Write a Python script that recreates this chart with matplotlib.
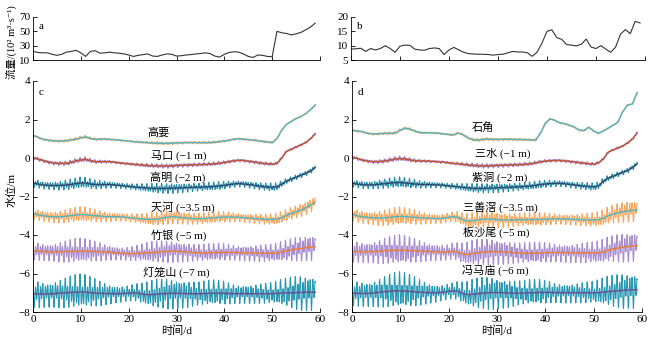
import numpy as np
import matplotlib
matplotlib.use("Agg")
import matplotlib.pyplot as plt

plt.rcParams['font.family'] = ['Liberation Serif', 'Noto Sans CJK SC', 'DejaVu Sans']
plt.rcParams['font.size'] = 8

days = np.arange(60)

# discharge, 10^2 m3/s
flow_a = [22, 20.5, 20, 20, 18, 16.5, 18, 21, 22, 23.5, 20, 15, 22, 23, 19.5, 20, 21, 20, 19.5, 18.5,
          17, 15, 16.5, 17.5, 18.5, 15.5, 15, 17, 18.5, 18, 15.5, 16, 17, 17.5, 18.5, 19, 20, 19, 15.5, 14,
          18, 20.5, 21.5, 21, 18.5, 15, 13.5, 17, 16.5, 15, 14.5, 50, 48, 47, 45, 46.5, 48.5, 52, 56, 61.5]
flow_b = [8.8, 8.9, 9.1, 8.0, 9.0, 8.5, 9.0, 10.0, 9.0, 7.7, 9.8, 10.2, 10.1, 8.8, 8.5, 8.4, 9.0, 9.2, 9.0, 6.9,
          8.5, 9.4, 8.5, 7.7, 7.2, 7.1, 7.0, 7.0, 6.9, 6.7, 6.9, 7.0, 7.5, 8.0, 7.8, 7.8, 7.5, 6.3, 7.8, 11,
          15, 15.5, 12.8, 12.2, 10.4, 10.2, 9.9, 10.5, 12.3, 9.5, 9.0, 10.0, 8.8, 7.7, 9.5, 14.0, 15.6, 14.2, 18.5, 17.9]

# daily mean water level as drawn (offset already applied), m
gaoyao = [1.18, 1.08, 0.98, 0.93, 0.9, 0.88, 0.88, 0.9, 0.94, 0.98, 1.05, 1.1, 1.02, 0.97, 0.98, 0.98, 0.97, 0.95, 0.93, 0.9,
          0.88, 0.85, 0.83, 0.81, 0.8, 0.78, 0.77, 0.76, 0.76, 0.77, 0.78, 0.79, 0.8, 0.8, 0.8, 0.8, 0.8, 0.8, 0.82, 0.85,
          0.88, 0.92, 0.97, 1.0, 0.98, 0.95, 0.93, 0.9, 0.86, 0.83, 0.8, 1.0, 1.45, 1.75, 1.9, 2.05, 2.15, 2.3, 2.5, 2.75]
makou = [0.02, -0.05, -0.13, -0.2, -0.25, -0.28, -0.28, -0.28, -0.22, -0.15, -0.1, -0.07, -0.14, -0.19, -0.19, -0.19, -0.19, -0.22, -0.25, -0.28,
         -0.3, -0.33, -0.35, -0.37, -0.39, -0.4, -0.41, -0.42, -0.42, -0.41, -0.39, -0.38, -0.37, -0.36, -0.35, -0.34, -0.33, -0.32, -0.3, -0.27,
         -0.23, -0.19, -0.15, -0.12, -0.13, -0.17, -0.2, -0.24, -0.28, -0.3, -0.32, -0.28, 0.0, 0.35, 0.45, 0.57, 0.68, 0.8, 1.0, 1.25]
gaoming = [-1.3, -1.35, -1.4, -1.42, -1.43, -1.43, -1.42, -1.4, -1.37, -1.33, -1.3, -1.3, -1.35, -1.38, -1.38, -1.38, -1.38, -1.4, -1.42, -1.45,
           -1.47, -1.5, -1.52, -1.54, -1.56, -1.57, -1.58, -1.58, -1.58, -1.57, -1.56, -1.55, -1.54, -1.53, -1.52, -1.51, -1.5, -1.49, -1.47, -1.45,
           -1.42, -1.38, -1.35, -1.33, -1.35, -1.38, -1.41, -1.45, -1.48, -1.5, -1.52, -1.5, -1.35, -1.2, -1.1, -1.0, -0.9, -0.8, -0.68, -0.5]
tianhe = [-2.88, -2.95, -3.0, -3.03, -3.05, -3.06, -3.05, -3.02, -2.99, -2.96, -2.94, -2.95, -2.98, -3.0, -3.02, -3.04, -3.05, -3.05, -3.05, -3.07,
          -3.1, -3.12, -3.15, -3.17, -3.19, -3.19, -3.17, -3.12, -3.08, -3.05, -3.06, -3.09, -3.12, -3.14, -3.15, -3.15, -3.14, -3.12, -3.1, -3.08,
          -3.07, -3.06, -3.07, -3.08, -3.1, -3.12, -3.14, -3.16, -3.18, -3.19, -3.19, -3.17, -3.1, -2.98, -2.88, -2.8, -2.7, -2.6, -2.45, -2.3]
zhuyin = [-4.82, -4.84, -4.86, -4.88, -4.88, -4.88, -4.87, -4.86, -4.85, -4.84, -4.83, -4.84, -4.85, -4.86, -4.87, -4.88, -4.9, -4.92, -4.94, -4.96,
          -4.97, -4.97, -4.95, -4.93, -4.92, -4.91, -4.89, -4.87, -4.85, -4.84, -4.84, -4.86, -4.88, -4.9, -4.92, -4.93, -4.93, -4.92, -4.91, -4.9,
          -4.9, -4.9, -4.91, -4.92, -4.93, -4.93, -4.94, -4.94, -4.95, -4.95, -4.95, -4.93, -4.88, -4.82, -4.77, -4.73, -4.7, -4.66, -4.63, -4.6]
denglongshan = [-7.05, -7.06, -7.07, -7.07, -7.06, -7.04, -7.02, -7.0, -6.98, -6.97, -6.96, -6.97, -6.99, -7.01, -7.03, -7.04, -7.05, -7.05, -7.05, -7.04,
                -7.02, -7.0, -7.02, -7.08, -7.1, -7.09, -7.07, -7.05, -7.04, -7.03, -7.03, -7.04, -7.05, -7.05, -7.05, -7.05, -7.04, -7.03, -7.02, -7.02,
                -7.03, -7.04, -7.05, -7.05, -7.05, -7.05, -7.05, -7.05, -7.05, -7.05, -7.04, -7.03, -7.02, -7.01, -7.0, -6.99, -6.98, -6.98, -6.97, -6.97]

shijiao = [1.45, 1.4, 1.37, 1.3, 1.25, 1.25, 1.27, 1.28, 1.28, 1.3, 1.45, 1.55, 1.5, 1.4, 1.32, 1.31, 1.31, 1.3, 1.28, 1.25,
           1.22, 1.2, 1.3, 1.2, 1.05, 0.95, 0.93, 0.96, 0.98, 0.97, 0.96, 0.97, 0.97, 0.97, 0.96, 0.96, 0.95, 0.94, 0.93, 1.3,
           1.8, 2.04, 1.95, 1.82, 1.78, 1.7, 1.6, 1.45, 1.42, 1.6, 1.4, 1.28, 1.4, 1.55, 1.7, 1.85, 2.4, 2.75, 2.8, 3.4]
sanshui = [0.05, -0.02, -0.1, -0.15, -0.19, -0.2, -0.18, -0.15, -0.1, -0.05, -0.03, -0.05, -0.1, -0.14, -0.15, -0.16, -0.17, -0.18, -0.2, -0.22,
           -0.25, -0.28, -0.3, -0.33, -0.36, -0.38, -0.4, -0.41, -0.41, -0.4, -0.39, -0.38, -0.37, -0.36, -0.35, -0.34, -0.32, -0.3, -0.25, -0.2,
           -0.16, -0.14, -0.13, -0.13, -0.15, -0.18, -0.21, -0.24, -0.27, -0.3, -0.32, -0.25, -0.05, 0.3, 0.42, 0.52, 0.62, 0.78, 0.98, 1.3]
zidong = [-1.3, -1.35, -1.38, -1.4, -1.4, -1.38, -1.35, -1.33, -1.3, -1.28, -1.27, -1.3, -1.33, -1.35, -1.37, -1.38, -1.38, -1.39, -1.4, -1.42,
          -1.45, -1.47, -1.5, -1.52, -1.55, -1.57, -1.58, -1.58, -1.57, -1.56, -1.55, -1.54, -1.53, -1.52, -1.5, -1.49, -1.47, -1.45, -1.42, -1.38,
          -1.35, -1.33, -1.32, -1.32, -1.34, -1.37, -1.4, -1.43, -1.46, -1.48, -1.5, -1.45, -1.2, -1.05, -0.95, -0.85, -0.75, -0.65, -0.5, -0.3]
sanshanjiao = [-2.9, -3.0, -3.05, -3.08, -3.1, -3.12, -3.12, -3.1, -3.08, -3.05, -3.03, -3.04, -3.06, -3.08, -3.1, -3.12, -3.13, -3.14, -3.15, -3.12,
               -3.08, -3.05, -3.08, -3.2, -3.28, -3.26, -3.22, -3.18, -3.17, -3.18, -3.2, -3.22, -3.22, -3.22, -3.21, -3.2, -3.2, -3.2, -3.2, -3.19,
               -3.18, -3.17, -3.16, -3.16, -3.17, -3.18, -3.19, -3.2, -3.21, -3.22, -3.22, -3.2, -3.12, -3.0, -2.92, -2.85, -2.8, -2.75, -2.72, -2.7]
banshawei = [-4.85, -4.86, -4.88, -4.88, -4.87, -4.86, -4.84, -4.82, -4.8, -4.79, -4.79, -4.8, -4.81, -4.82, -4.83, -4.85, -4.86, -4.87, -4.88, -4.9,
             -4.88, -4.84, -4.9, -5.0, -5.0, -4.96, -4.92, -4.89, -4.87, -4.86, -4.86, -4.87, -4.89, -4.91, -4.93, -4.94, -4.95, -4.95, -4.94, -4.93,
             -4.92, -4.91, -4.91, -4.91, -4.92, -4.93, -4.93, -4.93, -4.93, -4.93, -4.93, -4.92, -4.88, -4.78, -4.72, -4.68, -4.64, -4.6, -4.57, -4.55]
fengmamiao = [-7.02, -7.03, -7.04, -7.04, -7.03, -7.0, -6.97, -6.94, -6.92, -6.9, -6.9, -6.91, -6.93, -6.95, -6.97, -6.99, -7.0, -7.01, -7.0, -6.97,
              -6.93, -6.9, -6.92, -7.05, -7.1, -7.08, -7.05, -7.02, -7.0, -6.99, -6.99, -7.0, -7.01, -7.02, -7.02, -7.02, -7.01, -7.0, -6.99, -6.98,
              -6.98, -6.98, -6.99, -7.0, -7.0, -7.0, -7.0, -7.0, -7.0, -7.0, -7.0, -6.99, -6.97, -6.94, -6.92, -6.9, -6.88, -6.86, -6.85, -6.85]

# daily tidal range, m
rng_gaoyao = [0.12, 0.11, 0.1, 0.1, 0.11, 0.12, 0.13, 0.14, 0.15, 0.15, 0.15, 0.14, 0.13, 0.12, 0.11, 0.1, 0.09, 0.08, 0.08, 0.08,
              0.08, 0.09, 0.1, 0.11, 0.12, 0.13, 0.14, 0.14, 0.14, 0.14, 0.13, 0.13, 0.12, 0.12, 0.12, 0.12, 0.12, 0.12, 0.12, 0.12,
              0.11, 0.1, 0.1, 0.09, 0.09, 0.09, 0.1, 0.1, 0.1, 0.1, 0.1, 0.08, 0.06, 0.05, 0.05, 0.05, 0.05, 0.05, 0.05, 0.05]
rng_makou = [0.18, 0.17, 0.16, 0.16, 0.17, 0.19, 0.21, 0.22, 0.23, 0.24, 0.24, 0.23, 0.21, 0.19, 0.17, 0.15, 0.13, 0.12, 0.12, 0.12,
             0.12, 0.13, 0.15, 0.17, 0.19, 0.2, 0.21, 0.22, 0.22, 0.21, 0.2, 0.19, 0.18, 0.18, 0.18, 0.18, 0.18, 0.18, 0.18, 0.18,
             0.17, 0.16, 0.15, 0.14, 0.14, 0.14, 0.15, 0.15, 0.16, 0.16, 0.16, 0.14, 0.12, 0.1, 0.1, 0.1, 0.1, 0.1, 0.1, 0.1]
rng_gaoming = [0.45, 0.43, 0.4, 0.4, 0.42, 0.46, 0.5, 0.54, 0.58, 0.6, 0.6, 0.58, 0.55, 0.5, 0.45, 0.4, 0.36, 0.33, 0.31, 0.3,
               0.3, 0.32, 0.36, 0.4, 0.45, 0.5, 0.53, 0.55, 0.55, 0.54, 0.52, 0.5, 0.47, 0.45, 0.44, 0.43, 0.43, 0.44, 0.45, 0.44,
               0.42, 0.38, 0.35, 0.33, 0.33, 0.34, 0.36, 0.38, 0.4, 0.42, 0.44, 0.42, 0.35, 0.3, 0.28, 0.27, 0.27, 0.28, 0.28, 0.28]
rng_tianhe = [0.6, 0.57, 0.55, 0.55, 0.58, 0.63, 0.68, 0.73, 0.77, 0.8, 0.8, 0.78, 0.74, 0.68, 0.62, 0.55, 0.5, 0.46, 0.43, 0.42,
              0.42, 0.45, 0.5, 0.56, 0.62, 0.68, 0.72, 0.74, 0.74, 0.72, 0.7, 0.67, 0.64, 0.62, 0.6, 0.6, 0.6, 0.61, 0.62, 0.61,
              0.58, 0.54, 0.5, 0.47, 0.46, 0.47, 0.5, 0.53, 0.56, 0.58, 0.6, 0.62, 0.63, 0.64, 0.66, 0.68, 0.7, 0.72, 0.72, 0.7]
rng_zhuyin = [1.0, 0.95, 0.9, 0.88, 0.92, 1.0, 1.1, 1.2, 1.28, 1.3, 1.3, 1.25, 1.18, 1.08, 0.98, 0.88, 0.8, 0.74, 0.7, 0.7,
              0.72, 0.78, 0.85, 0.95, 1.05, 1.12, 1.16, 1.18, 1.18, 1.15, 1.1, 1.05, 1.0, 0.95, 0.92, 0.9, 0.9, 0.92, 0.93, 0.92,
              0.9, 0.86, 0.82, 0.8, 0.8, 0.82, 0.85, 0.88, 0.9, 0.92, 0.95, 1.0, 1.08, 1.15, 1.22, 1.28, 1.32, 1.35, 1.35, 1.3]
rng_denglongshan = [1.5, 1.45, 1.35, 1.3, 1.35, 1.45, 1.55, 1.65, 1.75, 1.8, 1.8, 1.75, 1.65, 1.5, 1.35, 1.2, 1.05, 0.95, 0.88, 0.85,
                    0.85, 0.9, 1.0, 1.15, 1.3, 1.45, 1.55, 1.6, 1.62, 1.6, 1.55, 1.5, 1.42, 1.35, 1.3, 1.28, 1.3, 1.33, 1.35, 1.32,
                    1.25, 1.15, 1.05, 1.0, 0.98, 1.0, 1.02, 1.05, 1.08, 1.1, 1.15, 1.25, 1.4, 1.55, 1.7, 1.8, 1.85, 1.85, 1.85, 1.8]
rng_shijiao = [0.1, 0.1, 0.09, 0.09, 0.1, 0.11, 0.12, 0.13, 0.14, 0.14, 0.14, 0.13, 0.12, 0.11, 0.1, 0.09, 0.08, 0.08, 0.08, 0.08,
               0.09, 0.1, 0.11, 0.12, 0.13, 0.14, 0.15, 0.15, 0.15, 0.14, 0.14, 0.13, 0.13, 0.12, 0.12, 0.12, 0.12, 0.12, 0.12, 0.1,
               0.08, 0.07, 0.07, 0.07, 0.07, 0.07, 0.07, 0.07, 0.07, 0.07, 0.07, 0.06, 0.06, 0.06, 0.06, 0.06, 0.06, 0.06, 0.06, 0.06]
rng_sanshui = [0.17, 0.16, 0.15, 0.15, 0.16, 0.18, 0.2, 0.21, 0.22, 0.23, 0.23, 0.22, 0.2, 0.18, 0.16, 0.14, 0.13, 0.12, 0.12, 0.12,
               0.12, 0.13, 0.15, 0.17, 0.19, 0.2, 0.21, 0.22, 0.22, 0.21, 0.2, 0.19, 0.18, 0.18, 0.18, 0.18, 0.18, 0.18, 0.18, 0.17,
               0.16, 0.15, 0.14, 0.14, 0.14, 0.14, 0.15, 0.15, 0.16, 0.16, 0.16, 0.14, 0.12, 0.1, 0.1, 0.1, 0.1, 0.1, 0.1, 0.1]
rng_zidong = [0.42, 0.4, 0.38, 0.38, 0.4, 0.44, 0.48, 0.52, 0.55, 0.57, 0.57, 0.55, 0.52, 0.47, 0.42, 0.38, 0.34, 0.31, 0.3, 0.29,
              0.29, 0.31, 0.34, 0.38, 0.43, 0.47, 0.5, 0.52, 0.52, 0.51, 0.49, 0.47, 0.45, 0.43, 0.42, 0.41, 0.41, 0.42, 0.43, 0.42,
              0.4, 0.37, 0.34, 0.32, 0.32, 0.33, 0.35, 0.37, 0.39, 0.41, 0.42, 0.4, 0.34, 0.3, 0.28, 0.27, 0.27, 0.28, 0.28, 0.28]
rng_sanshanjiao = [0.75, 0.7, 0.66, 0.65, 0.68, 0.74, 0.82, 0.88, 0.93, 0.95, 0.95, 0.92, 0.87, 0.8, 0.72, 0.64, 0.57, 0.52, 0.5, 0.5,
                   0.5, 0.54, 0.6, 0.68, 0.76, 0.83, 0.88, 0.9, 0.9, 0.88, 0.85, 0.8, 0.76, 0.73, 0.7, 0.7, 0.7, 0.71, 0.72, 0.7,
                   0.67, 0.62, 0.58, 0.55, 0.55, 0.56, 0.6, 0.64, 0.68, 0.72, 0.76, 0.8, 0.86, 0.92, 0.98, 1.04, 1.1, 1.15, 1.15, 1.1]
rng_banshawei = [1.2, 1.13, 1.07, 1.05, 1.1, 1.2, 1.32, 1.42, 1.5, 1.55, 1.55, 1.5, 1.42, 1.3, 1.17, 1.05, 0.95, 0.88, 0.85, 0.84,
                 0.85, 0.9, 1.0, 1.12, 1.24, 1.34, 1.4, 1.42, 1.42, 1.39, 1.34, 1.28, 1.22, 1.16, 1.12, 1.1, 1.1, 1.12, 1.13, 1.11,
                 1.07, 1.02, 0.98, 0.95, 0.95, 0.97, 1.0, 1.04, 1.08, 1.1, 1.14, 1.2, 1.28, 1.36, 1.44, 1.5, 1.55, 1.57, 1.57, 1.52]
rng_fengmamiao = [1.4, 1.35, 1.3, 1.28, 1.33, 1.45, 1.58, 1.7, 1.82, 1.88, 1.9, 1.85, 1.75, 1.6, 1.42, 1.25, 1.08, 0.96, 0.88, 0.84,
                  0.84, 0.9, 1.02, 1.18, 1.35, 1.52, 1.65, 1.72, 1.75, 1.72, 1.66, 1.58, 1.5, 1.42, 1.36, 1.32, 1.32, 1.34, 1.35, 1.32,
                  1.25, 1.16, 1.08, 1.03, 1.02, 1.03, 1.05, 1.08, 1.12, 1.15, 1.2, 1.3, 1.45, 1.6, 1.72, 1.8, 1.85, 1.87, 1.87, 1.82]

labels_c = ['高要', '马口 (−1 m)', '高明 (−2 m)', '天河 (−3.5 m)', '竹银 (−5 m)', '灯笼山 (−7 m)']
labels_d = ['石角', '三水 (−1 m)', '紫洞 (−2 m)', '三善滘 (−3.5 m)', '板沙尾 (−5 m)', '冯马庙 (−6 m)']
means_c = [gaoyao, makou, gaoming, tianhe, zhuyin, denglongshan]
means_d = [shijiao, sanshui, zidong, sanshanjiao, banshawei, fengmamiao]
rngs_c = [rng_gaoyao, rng_makou, rng_gaoming, rng_tianhe, rng_zhuyin, rng_denglongshan]
rngs_d = [rng_shijiao, rng_sanshui, rng_zidong, rng_sanshanjiao, rng_banshawei, rng_fengmamiao]

pos_c = [(26.2, 1.35), (30.5, 0.16), (30.3, -1.01), (31.3, -2.55), (30.5, -4.0), (30.0, -5.92)]
pos_d = [(27.0, 1.61), (31.1, 0.26), (30.6, -0.99), (30.6, -2.55), (29.8, -3.84), (29.6, -5.82)]

colors = [('#f9a75e', '#4db6c6'), ('#9f7fc4', '#c4542c'), ('#2a90a8', '#2f4870'),
          ('#f9a75e', '#4db6c6'), ('#a78ccf', '#ee7b2f'), ('#2797b2', '#6a4c94')]

hours = np.arange(0, 59 * 24 + 1) / 24.0
# semidiurnal tide with diurnal inequality
tide = (0.75 * np.cos(2 * np.pi * hours / 0.5175) + 0.4 * np.cos(2 * np.pi * hours / 0.9973 + 0.8)) / 1.1


def style(ax):
    for s in ['top', 'right']:
        ax.spines[s].set_visible(False)
    for s in ['left', 'bottom']:
        ax.spines[s].set_linewidth(0.6)
    ax.tick_params(direction='in', length=3, width=0.6, labelsize=8, pad=2)
    ax.set_xlim(0, 60)
    ax.set_xticks(range(0, 61, 10))


fig = plt.figure(figsize=(6.5, 3.39), dpi=100)

ax_a = fig.add_axes([33 / 650, 1 - 60 / 339, 287 / 650, 43 / 339])
ax_b = fig.add_axes([351 / 650, 1 - 60 / 339, 294 / 650, 43 / 339])
ax_c = fig.add_axes([33 / 650, 1 - 312 / 339, 287 / 650, 231 / 339])
ax_d = fig.add_axes([352 / 650, 1 - 312 / 339, 290 / 650, 231 / 339])

for ax, flow, yt, tag in [(ax_a, flow_a, [10, 30, 50, 70], 'a'), (ax_b, flow_b, [5, 10, 15, 20], 'b')]:
    ax.plot(days, flow, color='#333333', lw=0.8)
    style(ax)
    ax.set_ylim(yt[0], yt[-1])
    ax.set_yticks(yt)
    ax.set_xticklabels([])
    ax.text(0.02, 0.88, tag, transform=ax.transAxes, va='top', fontsize=8)

for ax, means, rngs, labels, pos, tag in [(ax_c, means_c, rngs_c, labels_c, pos_c, 'c'),
                                          (ax_d, means_d, rngs_d, labels_d, pos_d, 'd')]:
    for i in range(6):
        raw = np.interp(hours, days, means[i]) + 0.5 * np.interp(hours, days, rngs[i]) * tide
        ax.plot(hours, raw, color=colors[i][0], lw=1.0 if i < 2 else 0.75)
        ax.plot(days, means[i], color=colors[i][1], lw=1.0)
        ax.text(pos[i][0], pos[i][1], labels[i], ha='center', va='center', fontsize=8)
    style(ax)
    ax.set_ylim(-8, 4)
    ax.set_yticks(range(-8, 5, 2))
    ax.set_xlabel('时间/d', fontsize=8, labelpad=1)
    ax.text(0.02, 0.97, tag, transform=ax.transAxes, va='top', fontsize=8)

fig.text(0.017, 1 - 42 / 339, '流量/(10² m³·s⁻¹)', rotation=90, ha='center', va='center', fontsize=7.5)
fig.text(0.017, 1 - 190 / 339, '水位/m', rotation=90, ha='center', va='center', fontsize=8)

fig.savefig('out.png', dpi=100)
